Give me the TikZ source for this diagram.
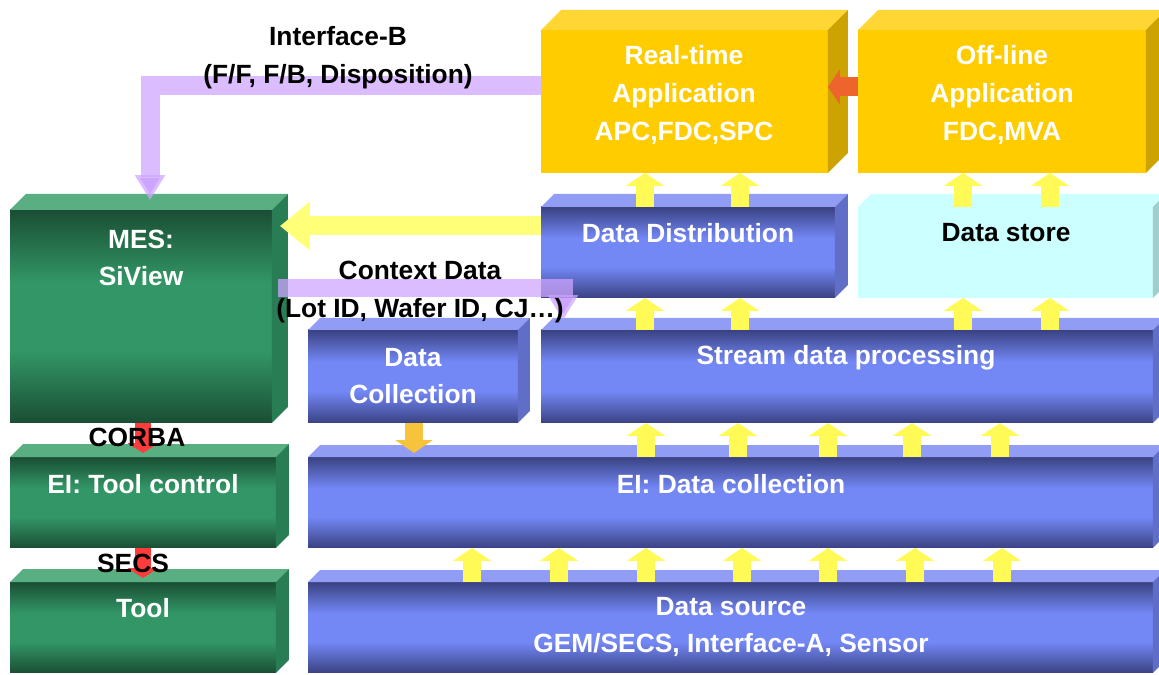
\documentclass[tikz,border=0pt]{standalone}
\usepackage{fontspec}
\setmainfont{Liberation Sans}
\usetikzlibrary{arrows.meta,calc}

\definecolor{bluedk}{RGB}{58,66,130}
\definecolor{bluemd}{RGB}{115,135,245}
\definecolor{bluetop}{RGB}{145,156,245}
\definecolor{blueside}{RGB}{96,110,200}
\definecolor{greendk}{RGB}{26,78,52}
\definecolor{greenmd}{RGB}{50,150,102}
\definecolor{greentop}{RGB}{90,175,130}
\definecolor{greenside}{RGB}{40,125,85}
\definecolor{goldfront}{RGB}{255,204,0}
\definecolor{goldtop}{RGB}{255,214,51}
\definecolor{goldside}{RGB}{204,163,0}
\definecolor{icefront}{RGB}{204,255,255}
\definecolor{iceside}{RGB}{160,205,205}
\definecolor{upyellow}{RGB}{255,250,85}
\definecolor{paleyellow}{RGB}{255,255,120}
\definecolor{orangearr}{RGB}{238,100,45}
\definecolor{lavender}{RGB}{205,165,255}
\definecolor{goldarr}{RGB}{245,195,60}
\definecolor{redarr}{RGB}{255,60,60}

\pgfdeclareverticalshading{bluefront}{100bp}{color(0bp)=(bluedk); color(25bp)=(bluedk); color(42bp)=(bluemd); color(58bp)=(bluemd); color(75bp)=(bluedk); color(100bp)=(bluedk)}
\pgfdeclareverticalshading{greenfront}{100bp}{color(0bp)=(greendk); color(25bp)=(greendk); color(42bp)=(greenmd); color(58bp)=(greenmd); color(75bp)=(greendk); color(100bp)=(greendk)}

% top and right face of a box node: name, depth, top colour, side colour
\newcommand{\cube}[4]{
\fill[#3] (#1.north west) -- ++(#2,-#2) -- ($(#1.north east)+(#2,-#2)$) -- (#1.north east) -- cycle;
\fill[#4] (#1.north east) -- ++(#2,-#2) -- ($(#1.south east)+(#2,-#2)$) -- (#1.south east) -- cycle;
}

\tikzset{
box/.style={anchor=north west, inner sep=0, outer sep=0},
bluebox/.style={box, shading=bluefront},
greenbox/.style={box, shading=greenfront},
goldbox/.style={box, fill=goldfront},
icebox/.style={box, fill=icefront},
txt/.style={font=\fontsize{15}{21.5}\selectfont\bfseries, text=white, align=center, inner sep=0},
lbl/.style={txt, text=black},
yup/.style={line width=0.36cm, draw=upyellow, -{Triangle[width=0.76cm,length=0.26cm]}},
bigarrow/.style={line width=0.38cm, draw=paleyellow, -{Triangle[width=0.94cm,length=0.6cm]}},
orarrow/.style={line width=0.38cm, draw=orangearr, -{Triangle[width=0.70cm,length=0.24cm]}},
lavarrow/.style={line width=0.38cm, draw=lavender, draw opacity=0.75, line join=miter, -{Triangle[width=0.58cm,length=0.5cm]}},
goldarrow/.style={line width=0.36cm, draw=goldarr, -{Triangle[width=0.74cm,length=0.26cm]}},
redarrow/.style={line width=0.32cm, draw=redarr, -{Triangle[width=0.62cm,length=0.2cm]}}
}

\begin{document}
\begin{tikzpicture}[x=0.02cm, y=-0.02cm]
\clip (0,0) rectangle (1159,675);

% boxes
\node[goldbox, minimum width=5.74cm, minimum height=2.86cm] (rt) at (541,30) {};
\node[goldbox, minimum width=5.76cm, minimum height=2.86cm] (off) at (858,30) {};
\node[bluebox, minimum width=5.88cm, minimum height=1.82cm] (dd) at (541,207) {};
\node[icebox, minimum width=5.90cm, minimum height=1.82cm] (ds) at (858,207) {};
\node[greenbox, minimum width=5.24cm, minimum height=4.26cm] (mes) at (10,210) {};
\node[bluebox, minimum width=4.20cm, minimum height=1.86cm] (dc) at (308,330) {};
\node[bluebox, minimum width=12.24cm, minimum height=1.86cm] (sdp) at (541,330) {};
\node[greenbox, minimum width=5.32cm, minimum height=1.82cm] (tc) at (10,457) {};
\node[bluebox, minimum width=16.90cm, minimum height=1.82cm] (eidc) at (308,457) {};
\node[greenbox, minimum width=5.32cm, minimum height=1.82cm] (tool) at (10,582) {};
\node[bluebox, minimum width=16.90cm, minimum height=1.82cm] (src) at (308,582) {};

\cube{rt}{20}{goldtop}{goldside}
\cube{off}{20}{goldtop}{goldside}
\cube{dd}{13}{bluetop}{blueside}
\cube{ds}{13}{icefront}{iceside}
\cube{mes}{16}{greentop}{greenside}
\cube{dc}{12}{bluetop}{blueside}
\cube{sdp}{12}{bluetop}{blueside}
\cube{tc}{13}{greentop}{greenside}
\cube{eidc}{12}{bluetop}{blueside}
\cube{tool}{13}{greentop}{greenside}
\cube{src}{12}{bluetop}{blueside}

% yellow arrows
\foreach \x in {645,740} {
\draw[yup] (dd.north -| \x,0) -- (rt.south -| \x,0);
\draw[yup] (sdp.north -| \x,0) -- (dd.south -| \x,0);
}
\foreach \x in {963,1050} {
\draw[yup] (ds.north -| \x,0) -- (off.south -| \x,0);
\draw[yup] (sdp.north -| \x,0) -- (ds.south -| \x,0);
}
\foreach \x in {646,738,828,912,1000}
\draw[yup] (eidc.north -| \x,0) -- (sdp.south -| \x,0);
\foreach \x in {472,559,646,742,828,915,1002}
\draw[yup] (src.north -| \x,0) -- (eidc.south -| \x,0);

\draw[bigarrow] (dd.west |- 0,226) -- ($(mes.east |- 0,226)+(8,0)$);
\draw[orarrow] (off.west |- 0,87) -- (rt.east |- 0,87);
\draw[goldarrow] (dc.south -| 414,0) -- ($(eidc.north -| 414,0)+(0,-4)$);
\draw[redarrow] (mes.south -| 143,0) -- ($(tc.north -| 143,0)+(0,-4)$);
\draw[redarrow] (tc.south -| 143,0) -- ($(tool.north -| 143,0)+(0,-4)$);
\draw[lavarrow] (rt.west |- 0,86) -| ($(mes.north -| 150,0)+(0,-10)$);
\draw[lavarrow] ($(mes.east |- 0,288)+(6,0)$) -| ($(sdp.north -| 563,0)+(0,-10)$);

% texts
\node[txt] (rtt) at (684,95) {Real-time\\Application\\APC,FDC,SPC};
\node[txt] (offt) at (1002,95) {Off-line\\Application\\FDC,MVA};
\node[txt] (ddt) at (688,233) {Data Distribution};
\node[lbl] (dst) at (1006,233) {Data store};
\node[txt] (mest) at (141,258) {MES:\\SiView};
\node[txt] (dct) at (413,376) {Data\\Collection};
\node[txt] (sdpt) at (846,358) {Stream data processing};
\node[txt] (tct) at (143,484) {EI: Tool control};
\node[txt] (eidct) at (731,484) {EI: Data collection};
\node[txt] (toolt) at (143,608) {Tool};
\node[txt] (srct) at (731,627) {Data source\\GEM/SECS, Interface-A, Sensor};
\node[lbl] (ifb) at (338,58) {Interface-B\\(F/F, F/B, Disposition)};
\node[lbl] (ctx) at (420,292) {Context Data\\(Lot ID, Wafer ID, CJ…)};
\node[lbl] (corba) at (137,437) {CORBA};
\node[lbl] (secs) at (133,563) {SECS};
\end{tikzpicture}
\end{document}
